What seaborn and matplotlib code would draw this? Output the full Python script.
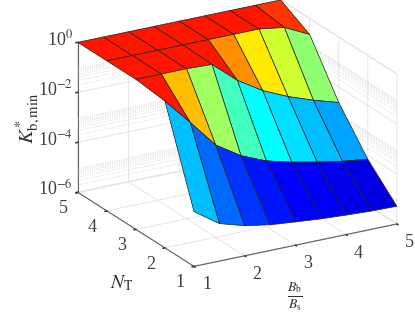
import numpy as np
import matplotlib
matplotlib.use('Agg')
import matplotlib.pyplot as plt
from mpl_toolkits.mplot3d import proj3d
import seaborn as sns

# axes values
b_ratio = [1, 1.5, 2, 2.5, 3, 3.5, 4, 4.5, 5]
n_t = [1, 2, 3, 4, 5]

# log10(K*_b,min), one row per N_T
log_k_nt1 = [-3.81, -4.50, -4.80, -4.97, -5.07, -5.16, -5.22, -5.27, -5.29]
log_k_nt2 = [-0.13, -1.20, -2.31, -2.95, -3.37, -3.63, -3.84, -4.02, -4.15]
log_k_nt3 = [0, 0, 0, -0.04, -0.89, -1.51, -1.96, -2.32, -2.62]
log_k_nt4 = [0, 0, 0, 0, 0, 0, 0, -0.15, -0.64]
log_k_nt5 = [0, 0, 0, 0, 0, 0, 0, 0, 0]

# face colours as seen in the picture
faces_nt1 = ['#00bfff', '#006aff', '#0033ff', '#0014ff', '#0000ff', '#0000f5', '#0000ea', '#0000e0']
faces_nt2 = ['#ff1500', '#ffbf00', '#a0ff5f', '#40ffbf', '#00ffff', '#00dfff', '#00bfff', '#00a4ff']
faces_nt3 = ['#ff1500', '#ff1500', '#ff1500', '#ff1500', '#ff8f00', '#ffea00', '#cfff30', '#90ff6f']
faces_nt4 = ['#ff1500', '#ff1500', '#ff1500', '#ff1500', '#ff1500', '#ff1500', '#ff1500', '#ff3500']

xy_ticks = [1, 2, 3, 4, 5]
z_ticks = [-6, -4, -2, 0]
z_labels = ['10$^{-6}$', '10$^{-4}$', '10$^{-2}$', '10$^{0}$']

sns.set_theme(style='white', rc={'grid.color': '#e6e6e6', 'grid.linewidth': 0.7})
plt.rcParams['font.family'] = ['Liberation Serif', 'DejaVu Sans']
plt.rcParams['mathtext.fontset'] = 'stix'

X, Y = np.meshgrid(b_ratio, n_t)
Z = np.array([log_k_nt1, log_k_nt2, log_k_nt3, log_k_nt4, log_k_nt5])
face_table = [faces_nt1, faces_nt2, faces_nt3, faces_nt4]
face_rgba = [[matplotlib.colors.to_rgba(c) for c in row] for row in face_table]

fig = plt.figure(figsize=(4.15, 3.12), dpi=100)
size = 357
ax = fig.add_axes([(232.5 - size / 2) / 415, (174 - size / 2) / 312, size / 415, size / 312],
                  projection='3d')
ax.view_init(elev=21.4, azim=-119.8)
ax.set_proj_type('ortho')
ax.set_box_aspect((235, 235, 162), zoom=1.0)

surf = ax.plot_surface(X, Y, Z, facecolors=face_rgba, rstride=1, cstride=1, shade=False,
                       linewidth=0.5)
surf.set_edgecolor('#202020')

ax.set_xlim(1, 5)
ax.set_ylim(1, 5)
ax.set_zlim(-6, 0)
ax.set_xticks(xy_ticks)
ax.set_yticks(xy_ticks)
ax.set_zticks(z_ticks)
ax.set_xticklabels([])
ax.set_yticklabels([])
ax.set_zticklabels([])
ax.tick_params(axis='both', colors='#404040')


# tick labels by hand, the 3d axis resets any offset on its own labels
def tick_label(x, y, z, s, dx, dy, ha='center'):
    px, py, _ = proj3d.proj_transform(x, y, z, ax.get_proj())
    ax.annotate(s, (px, py), xytext=(dx, dy), textcoords='offset pixels', ha=ha, va='center',
                fontsize=13, color='#404040', annotation_clip=False)


for t in xy_ticks:
    tick_label(t, 1, -6, str(t), 12.5, -18.5)
    tick_label(1, t, -6, str(t), -14.5, -16.5)
for z, lab in zip(z_ticks, z_labels):
    tick_label(1, 5, z, lab, -5, 3, ha='right')

# log minor grid on the two back walls
for decade in z_ticks[:-1]:
    for k in range(2, 10):
        zm = decade + np.log10(k)
        ax.plot([1, 5], [5, 5], [zm, zm], color='#c8c8c8', lw=0.5, ls=':', zorder=0)
        ax.plot([5, 5], [1, 5], [zm, zm], color='#c8c8c8', lw=0.5, ls=':', zorder=0)

for axis in (ax.xaxis, ax.yaxis, ax.zaxis):
    axis.set_pane_color((1, 1, 1, 1))
    axis.pane.set_edgecolor('#e6e6e6')
    axis.line.set_color('#606060')
    axis.line.set_linewidth(0.8)
    axis._axinfo['tick']['outward_factor'] = 0.0
    axis._axinfo['tick']['inward_factor'] = 0.12

fig.text(28 / 415, 1 - 118 / 312, r'$K^{*}_{\mathrm{b,min}}$', rotation=90, fontsize=15,
         color='#303030', ha='center', va='center')
fig.text(122 / 415, 1 - 283 / 312, r'$N_{\mathrm{T}}$', fontsize=14, color='#303030',
         ha='center', va='center')
fig.text(295 / 415, 1 - 297 / 312, r'$\frac{B_{\mathrm{b}}}{B_{\mathrm{s}}}$', fontsize=14,
         color='#303030', ha='center', va='center')

fig.savefig('out.png', dpi=100)
